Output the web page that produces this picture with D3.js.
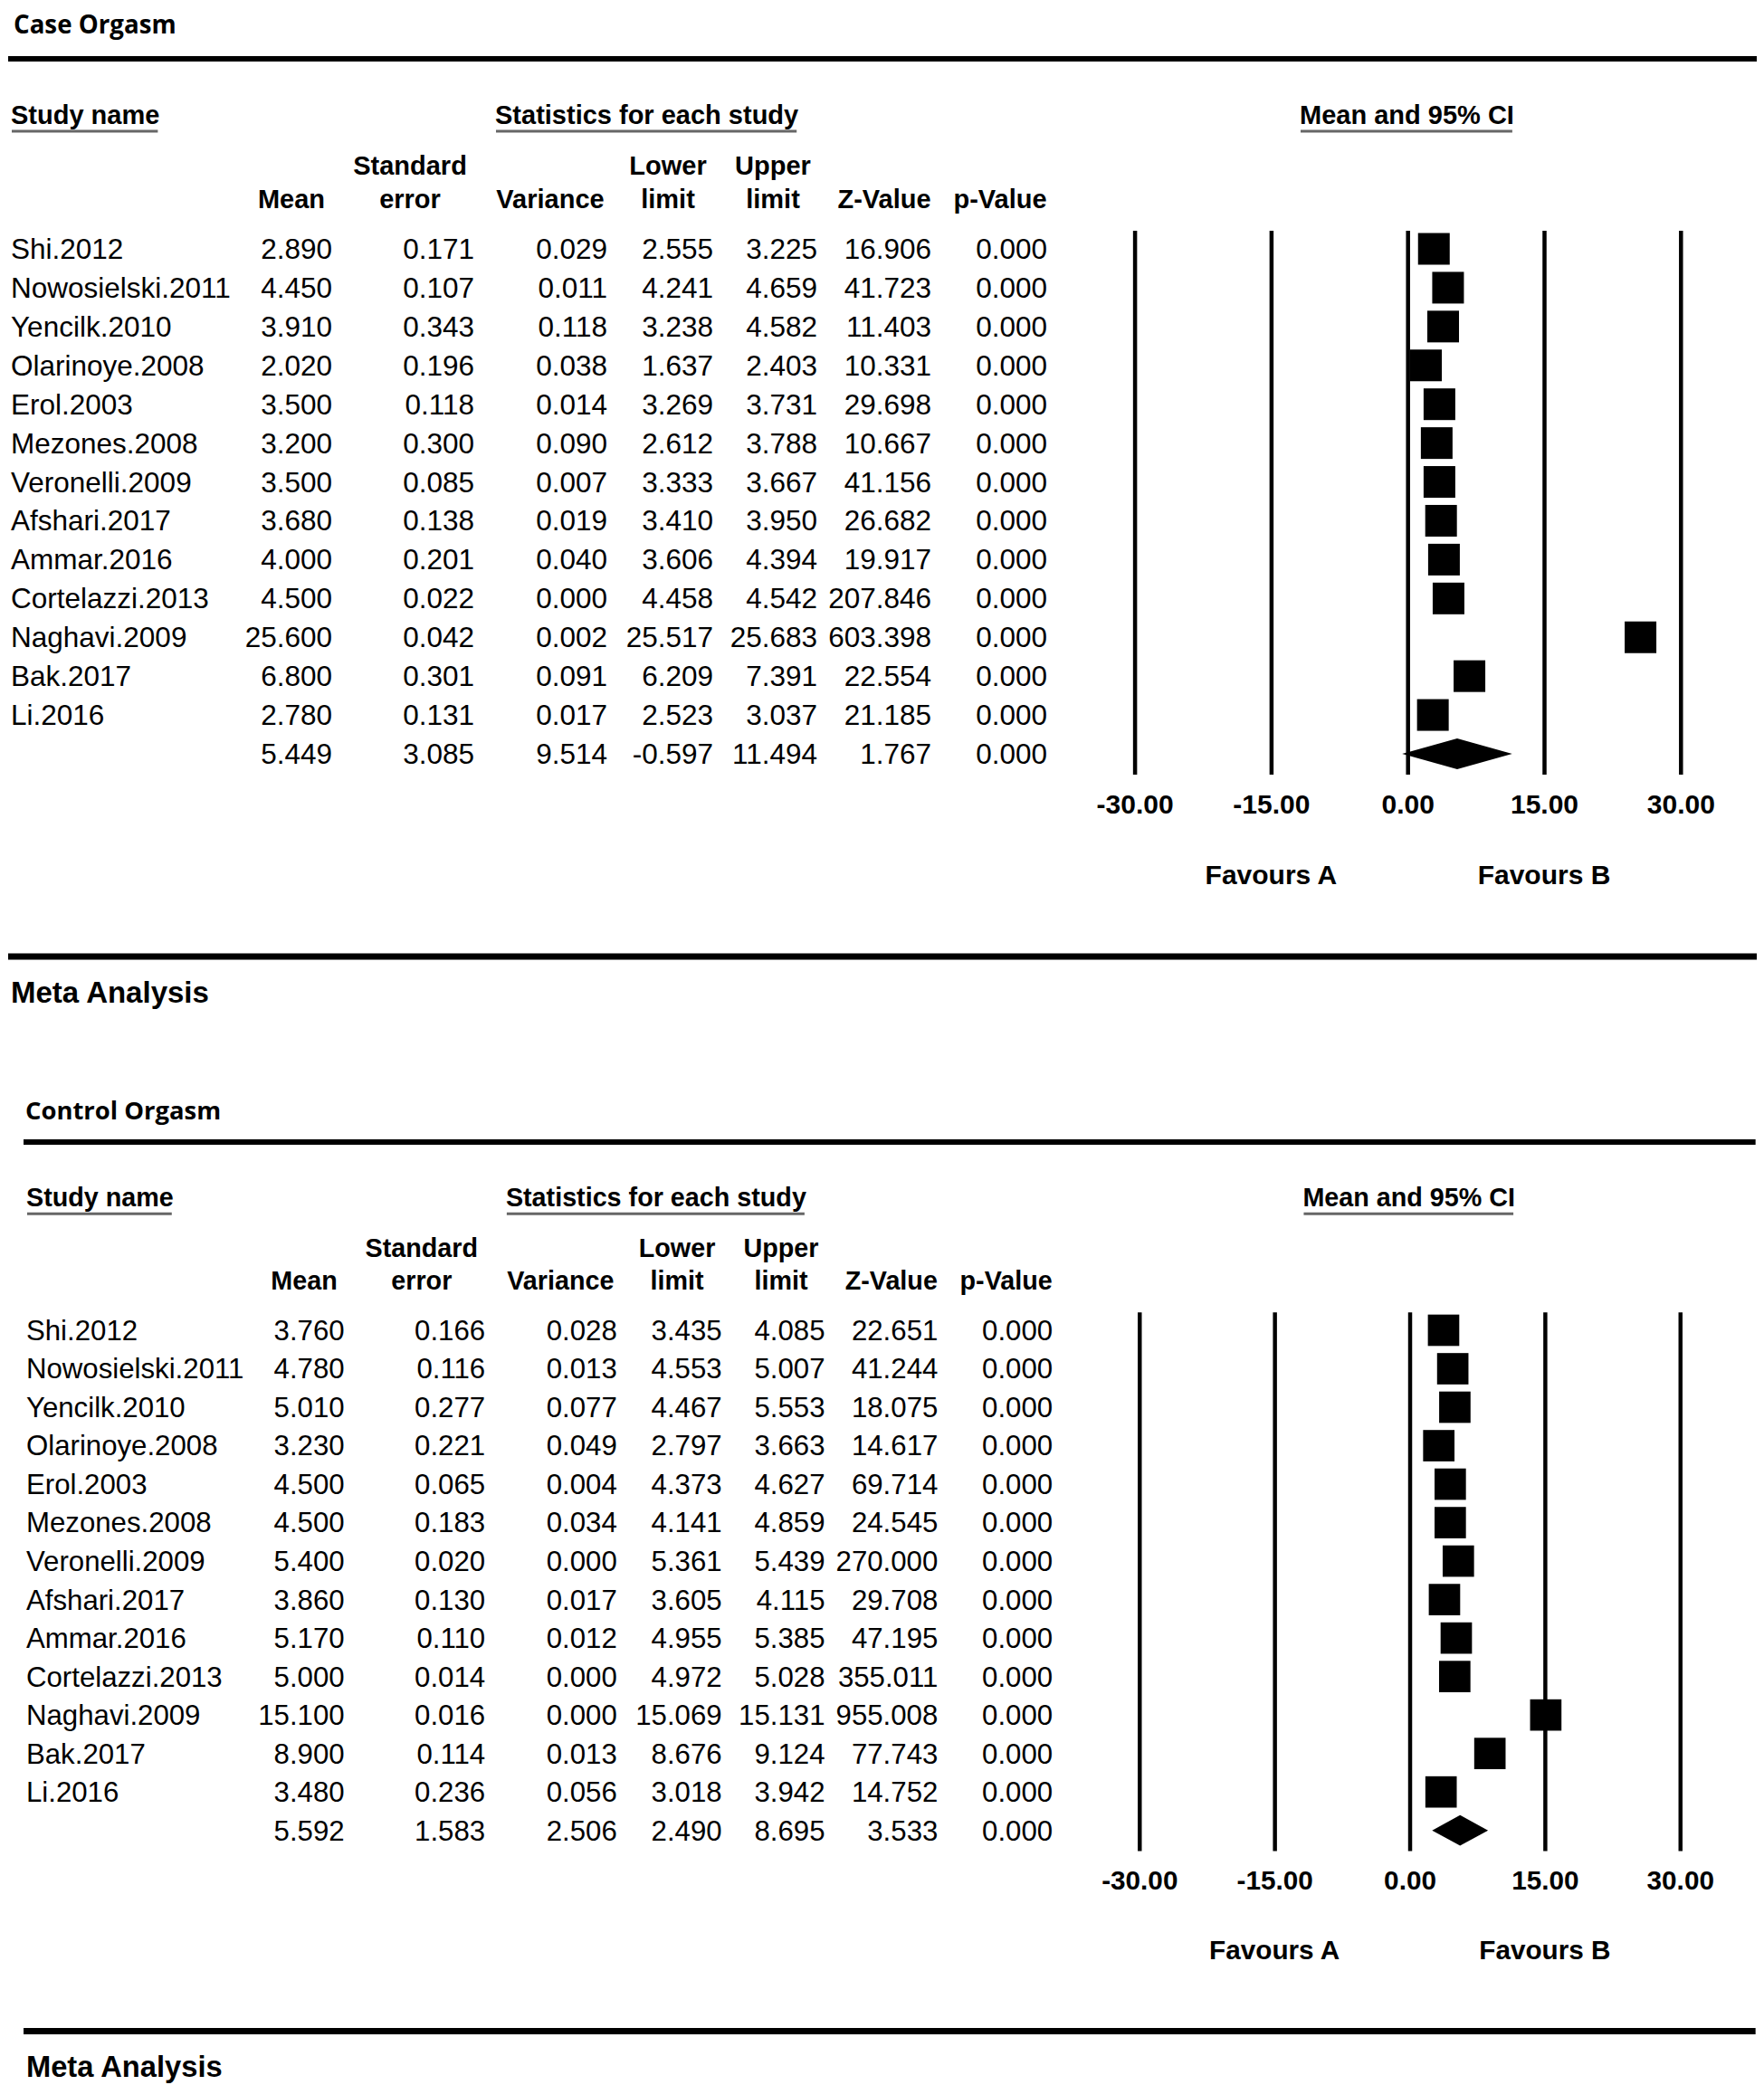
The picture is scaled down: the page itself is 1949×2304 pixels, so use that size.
<!DOCTYPE html>
<html><head><meta charset="utf-8">
<script src="https://cdn.jsdelivr.net/npm/d3@7/dist/d3.min.js"></script>
<style>
html,body{margin:0;padding:0;background:#fff;}
svg{display:block;}
</style></head><body>
<script>
// ---------------- DATA ----------------
const studies = ["Shi.2012","Nowosielski.2011","Yencilk.2010","Olarinoye.2008","Erol.2003","Mezones.2008","Veronelli.2009","Afshari.2017","Ammar.2016","Cortelazzi.2013","Naghavi.2009","Bak.2017","Li.2016"];

const caseMean     = [2.890,4.450,3.910,2.020,3.500,3.200,3.500,3.680,4.000,4.500,25.600,6.800,2.780];
const caseSE       = [0.171,0.107,0.343,0.196,0.118,0.300,0.085,0.138,0.201,0.022,0.042,0.301,0.131];
const caseVariance = [0.029,0.011,0.118,0.038,0.014,0.090,0.007,0.019,0.040,0.000,0.002,0.091,0.017];
const caseLower    = [2.555,4.241,3.238,1.637,3.269,2.612,3.333,3.410,3.606,4.458,25.517,6.209,2.523];
const caseUpper    = [3.225,4.659,4.582,2.403,3.731,3.788,3.667,3.950,4.394,4.542,25.683,7.391,3.037];
const caseZ        = [16.906,41.723,11.403,10.331,29.698,10.667,41.156,26.682,19.917,207.846,603.398,22.554,21.185];
const caseP        = [0,0,0,0,0,0,0,0,0,0,0,0,0];
// summary: mean, se, variance, lower, upper, z, p
const caseSummary  = [5.449,3.085,9.514,-0.597,11.494,1.767,0.000];

const controlMean     = [3.760,4.780,5.010,3.230,4.500,4.500,5.400,3.860,5.170,5.000,15.100,8.900,3.480];
const controlSE       = [0.166,0.116,0.277,0.221,0.065,0.183,0.020,0.130,0.110,0.014,0.016,0.114,0.236];
const controlVariance = [0.028,0.013,0.077,0.049,0.004,0.034,0.000,0.017,0.012,0.000,0.000,0.013,0.056];
const controlLower    = [3.435,4.553,4.467,2.797,4.373,4.141,5.361,3.605,4.955,4.972,15.069,8.676,3.018];
const controlUpper    = [4.085,5.007,5.553,3.663,4.627,4.859,5.439,4.115,5.385,5.028,15.131,9.124,3.942];
const controlZ        = [22.651,41.244,18.075,14.617,69.714,24.545,270.000,29.708,47.195,355.011,955.008,77.743,14.752];
const controlP        = [0,0,0,0,0,0,0,0,0,0,0,0,0];
const controlSummary  = [5.592,1.583,2.506,2.490,8.695,3.533,0.000];

const columnHeaders = [["Mean"],["Standard","error"],["Variance"],["Lower","limit"],["Upper","limit"],["Z-Value"],["p-Value"]];
const axisTicks = [-30,-15,0,15,30];
const favourLabels = ["Favours A","Favours B"];
const favourAt = [-15,15];

// ---------------- LAYOUT ----------------
const W = 1949, H = 2304;
const ARIAL = "'Liberation Sans', Arial, sans-serif";
const loc = d3.formatLocale({decimal:".", thousands:",", grouping:[3], currency:["",""], minus:"-"});
const f3 = loc.format(".3f"), f2 = loc.format(".2f");

const svg = d3.select("body").append("svg").attr("width",W).attr("height",H)
  .style("background","#fff");

const colRight  = [367,524,671,788,903,1029,1157];
const colCenter = [322,453,608,738,854,977,1105];

function drawPanel(g, p){
  // Title
  g.append("text").attr("x",p.titleX).attr("y",p.titleY).text(p.title)
    .attr("font-family","'Open Sans', sans-serif").attr("font-weight",700).attr("font-size",27.7);
  // top rule
  g.append("line").attr("x1",9).attr("x2",1941).attr("y1",65).attr("y2",65)
    .attr("stroke","#000").attr("stroke-width",6);

  // group headers with underline
  const groups = [["Study name",12],["Statistics for each study",547],["Mean and 95% CI",1436]];
  groups.forEach(([t,x])=>{
    const tx = g.append("text").attr("x",x).attr("y",137).text(t)
      .attr("font-family",ARIAL).attr("font-weight","bold").attr("font-size",29);
    const len = tx.node().getComputedTextLength();
    g.append("line").attr("x1",x+1).attr("x2",x+len-2).attr("y1",145).attr("y2",145)
      .attr("stroke","#666").attr("stroke-width",3);
  });

  // column headers
  columnHeaders.forEach((lines,i)=>{
    const baseY = lines.length===2 ? [193,230] : [230];
    lines.forEach((ln,j)=>{
      g.append("text").attr("x",colCenter[i]).attr("y",baseY[j]).attr("text-anchor","middle")
        .text(ln).attr("font-family",ARIAL).attr("font-weight","bold").attr("font-size",29);
    });
  });

  // rows
  const ry = d3.scalePoint().domain(d3.range(studies.length+1)).range([275,833]);
  const cols = [p.mean,p.se,p.variance,p.lower,p.upper,p.z,p.p];
  const rows = g.append("g").attr("font-family",ARIAL).attr("font-size",31.5);
  studies.forEach((s,i)=>{
    rows.append("text").attr("x",12).attr("y",ry(i)).attr("dy","0.35em").text(s);
    cols.forEach((arr,c)=>{
      rows.append("text").attr("x",colRight[c]).attr("y",ry(i)).attr("dy","0.35em")
        .attr("text-anchor","end").text(f3(arr[i]));
    });
  });
  const si = studies.length;
  p.summary.forEach((v,c)=>{
    rows.append("text").attr("x",colRight[c]).attr("y",ry(si)).attr("dy","0.35em")
      .attr("text-anchor","end").text(f3(v));
  });

  // forest plot
  const fx = d3.scaleLinear().domain([-30,30]).range([1253.6,1856.8]);
  const ax = g.append("g").attr("transform","translate(0,856)")
    .call(d3.axisBottom(fx).tickValues(axisTicks).tickFormat(f2)
      .tickSizeInner(-601).tickSizeOuter(0).tickPadding(22));
  ax.select(".domain").remove();
  ax.attr("font-family",ARIAL).attr("font-size",30).attr("font-weight","bold");
  ax.selectAll(".tick line").attr("stroke","#000").attr("stroke-width",4.5);
  ax.selectAll(".tick text").attr("fill","#000");

  const fp = g.append("g");
  studies.forEach((s,i)=>{
    fp.append("line").attr("x1",fx(p.lower[i])).attr("x2",fx(p.upper[i]))
      .attr("y1",ry(i)).attr("y2",ry(i)).attr("stroke","#000").attr("stroke-width",2);
    fp.append("rect").attr("x",fx(p.mean[i])-17.5).attr("y",ry(i)-17.5)
      .attr("width",35).attr("height",35).attr("fill","#000");
  });
  const cy = ry(si), sm = p.summary;
  fp.append("path").attr("d",
    `M${fx(sm[3])},${cy} L${fx(sm[0])},${cy-17} L${fx(sm[4])},${cy} L${fx(sm[0])},${cy+17} Z`)
    .attr("fill","#000");

  favourLabels.forEach((t,i)=>{
    g.append("text").attr("x",fx(favourAt[i])).attr("y",977).attr("text-anchor","middle")
      .text(t).attr("font-family",ARIAL).attr("font-weight","bold").attr("font-size",30);
  });

  // bottom rule and footer
  g.append("line").attr("x1",9).attr("x2",1941).attr("y1",1057).attr("y2",1057)
    .attr("stroke","#000").attr("stroke-width",7);
  g.append("text").attr("x",12).attr("y",1108).text("Meta Analysis")
    .attr("font-family",ARIAL).attr("font-weight","bold").attr("font-size",33);
}

drawPanel(svg.append("g"), {
  title:"Case Orgasm", titleX:15, titleY:37,
  mean:caseMean, se:caseSE, variance:caseVariance, lower:caseLower, upper:caseUpper,
  z:caseZ, p:caseP, summary:caseSummary
});
drawPanel(svg.append("g").attr("transform","translate(17.1,1197.6) scale(0.9905)"), {
  title:"Control Orgasm", titleX:11, titleY:40,
  mean:controlMean, se:controlSE, variance:controlVariance, lower:controlLower, upper:controlUpper,
  z:controlZ, p:controlP, summary:controlSummary
});
</script>
</body></html>
